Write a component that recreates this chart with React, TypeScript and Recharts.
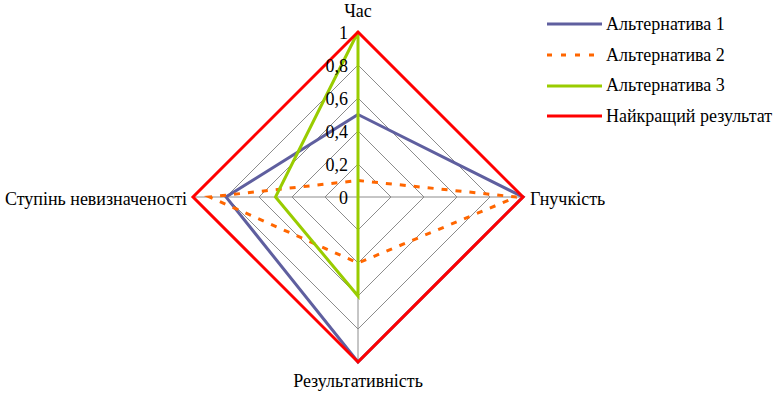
import { RadarChart, Radar, PolarGrid, PolarAngleAxis, PolarRadiusAxis, Legend } from 'recharts';

const criteria = ['Час', 'Гнучкість', 'Результативність', 'Ступінь невизначеності'];
const alt1 = [0.5, 1, 1, 0.8];
const alt2 = [0.1, 0.96, 0.4, 0.9];
const alt3 = [1, 0, 0.6, 0.5];
const best = [1, 1, 1, 1];
const radiusTicks = [0, 0.2, 0.4, 0.6, 0.8, 1];

const series = [
  { key: 'alt1', name: 'Альтернатива 1', color: '#5f5f9f', dash: undefined as string | undefined },
  { key: 'alt2', name: 'Альтернатива 2', color: '#ff6600', dash: '6 8' },
  { key: 'alt3', name: 'Альтернатива 3', color: '#99cc00', dash: undefined },
  { key: 'best', name: 'Найкращий результат', color: '#ff0000', dash: undefined },
];

const data = criteria.map((c, i) => ({
  criterion: c,
  alt1: alt1[i],
  alt2: alt2[i],
  alt3: alt3[i],
  best: best[i],
}));

const FONT = '"Liberation Serif", serif';

function AngleTick(props: any) {
  const { payload, index, cx, cy } = props;
  const r = 165;
  let x = cx;
  let y = cy + 2;
  let anchor: 'start' | 'middle' | 'end' = 'middle';
  if (index === 0) {
    y = cy - r - 21;
  } else if (index === 1) {
    x = cx + r + 7;
    anchor = 'start';
  } else if (index === 2) {
    y = cy + r + 19;
  } else {
    x = cx - r - 6;
    anchor = 'end';
  }
  return (
    <text x={x} y={y} textAnchor={anchor} dominantBaseline="central" style={{ fontFamily: FONT, fontSize: 18 }} fill="#000">
      {payload.value}
    </text>
  );
}

function RadiusTick(props: any) {
  const { x, y, payload } = props;
  return (
    <text x={x - 10} y={y + 1} textAnchor="end" dominantBaseline="central" style={{ fontFamily: FONT, fontSize: 18 }} fill="#000">
      {String(payload.value).replace('.', ',')}
    </text>
  );
}

function LegendContent() {
  return (
    <div style={{ fontFamily: FONT, fontSize: 18, color: '#000' }}>
      {series.map((s) => (
        <div key={s.key} style={{ display: 'flex', alignItems: 'center', height: 30.7 }}>
          <svg width={58} height={6}>
            <line x1={2} y1={3} x2={57} y2={3} stroke={s.color} strokeWidth={3} strokeDasharray={s.dash ? '5 9' : undefined} />
          </svg>
          <span style={{ marginLeft: 3 }}>{s.name}</span>
        </div>
      ))}
    </div>
  );
}

export default function App() {
  return (
    <div style={{ position: 'absolute', left: 0, top: 0, width: 776, height: 393, background: '#fff' }}>
      <RadarChart width={776} height={393} data={data} cx={358} cy={197} outerRadius={165} startAngle={90} endAngle={-270}>
        <PolarGrid gridType="polygon" stroke="#8c8c8c" strokeWidth={1} />
        <PolarAngleAxis dataKey="criterion" tick={<AngleTick />} tickLine={false} axisLine={false} />
        <PolarRadiusAxis angle={90} domain={[0, 1]} ticks={radiusTicks} tick={<RadiusTick />} axisLine={false} tickLine={false} />
        {series.map((s) => (
          <Radar
            key={s.key}
            dataKey={s.key}
            name={s.name}
            stroke={s.color}
            strokeWidth={3}
            strokeDasharray={s.dash}
            fill="none"
            fillOpacity={0}
            dot={false}
            isAnimationActive={false}
          />
        ))}
        <Legend
          content={<LegendContent />}
          layout="vertical"
          verticalAlign="top"
          align="right"
          wrapperStyle={{ left: 545, top: 9, width: 231 }}
        />
      </RadarChart>
    </div>
  );
}
